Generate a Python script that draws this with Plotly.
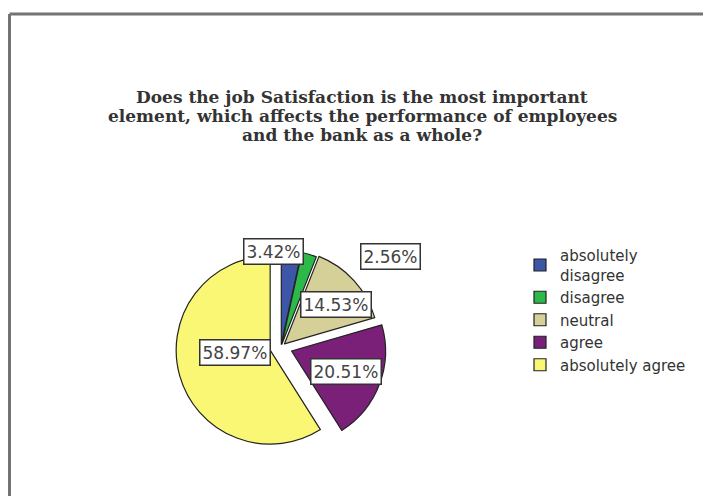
import math
import plotly.graph_objects as go

# ---- data ----
categories = ["absolutely<br>disagree", "disagree", "neutral", "agree", "absolutely agree"]
percentages = [3.42, 2.56, 14.53, 20.51, 58.97]
label_texts = ["3.42%", "2.56%", "14.53%", "20.51%", "58.97%"]
title_lines = [
    "Does the job Satisfaction is the most important",
    "element, which affects the performance of employees",
    "and the bank as a whole?",
]

# ---- style ----
colors = ["#3D56A8", "#2DB84A", "#D5CF98", "#7A2079", "#FAF774"]
pulls = [0.03, 0.03, 0.05, 0.12, 0.12]
label_k = [0.99, 0.98, 0.70, 0.62, 0.39]   # radial label position (fraction of radius)
label_dx = [-18, 82, 3, 0, 0]              # extra pixel shift of labels
label_dy = [0, 0, -5, 0, 8]
W, H = 711, 496
OFF = 8                                   # page body margin
PIE_CX, PIE_CY, PIE_R = 281, 347, 94      # page pixel centre / radius


def xp(px):
    return (px - OFF) / W


def yp(py):
    return 1 - (py - OFF) / H


half = PIE_R * (1 + max(pulls))
dom_x = [xp(PIE_CX - half), xp(PIE_CX + half)]
dom_y = [yp(PIE_CY + half), yp(PIE_CY - half)]

fig = go.Figure()
fig.add_trace(go.Pie(
    labels=categories,
    values=percentages,
    sort=False,
    direction="clockwise",
    rotation=0,
    pull=pulls,
    marker=dict(colors=colors, line=dict(color="#222222", width=1.2)),
    textinfo="none",
    hoverinfo="label+percent",
    domain=dict(x=dom_x, y=dom_y),
))

# value labels placed from the slice geometry
total = sum(percentages)
cum = 0.0
for i, v in enumerate(percentages):
    mid = (cum + v / 2) / total * 2 * math.pi
    cum += v
    reff = PIE_R * (label_k[i] + pulls[i])
    px = PIE_CX + reff * math.sin(mid)
    py = PIE_CY - reff * math.cos(mid)
    fig.add_annotation(
        x=xp(px), y=yp(py), xref="paper", yref="paper",
        xanchor="center", yanchor="middle",
        text=label_texts[i], showarrow=False, xshift=label_dx[i], yshift=label_dy[i],
        font=dict(family="DejaVu Sans", size=17, color="#444444"),
        bgcolor="white", bordercolor="#333333", borderwidth=1.5, borderpad=2,
    )

# title (three centred lines)
for j, line in enumerate(title_lines):
    fig.add_annotation(
        x=xp(362), y=yp(97 + 19 * j), xref="paper", yref="paper",
        xanchor="center", yanchor="middle", text="<b>" + line + "</b>",
        showarrow=False, font=dict(family="DejaVu Serif", size=17, color="#333333"),
    )

# frame
fig.add_shape(type="line", xref="paper", yref="paper", x0=xp(9.5), x1=1.05, y0=yp(14), y1=yp(14),
              line=dict(color="#737373", width=3))
fig.add_shape(type="line", xref="paper", yref="paper", x0=xp(9.5), x1=xp(9.5), y0=-0.05, y1=yp(14),
              line=dict(color="#737373", width=3))

fig.update_layout(
    width=W, height=H,
    margin=dict(l=0, r=0, t=0, b=0),
    paper_bgcolor="white", plot_bgcolor="white",
    showlegend=True,
    legend=dict(
        x=xp(520), y=yp(239), xanchor="left", yanchor="top",
        font=dict(family="DejaVu Sans", size=15, color="#333333"),
        traceorder="normal", itemwidth=30, tracegroupgap=0,
        bgcolor="rgba(0,0,0,0)",
    ),
)

fig.write_html("out.html")
